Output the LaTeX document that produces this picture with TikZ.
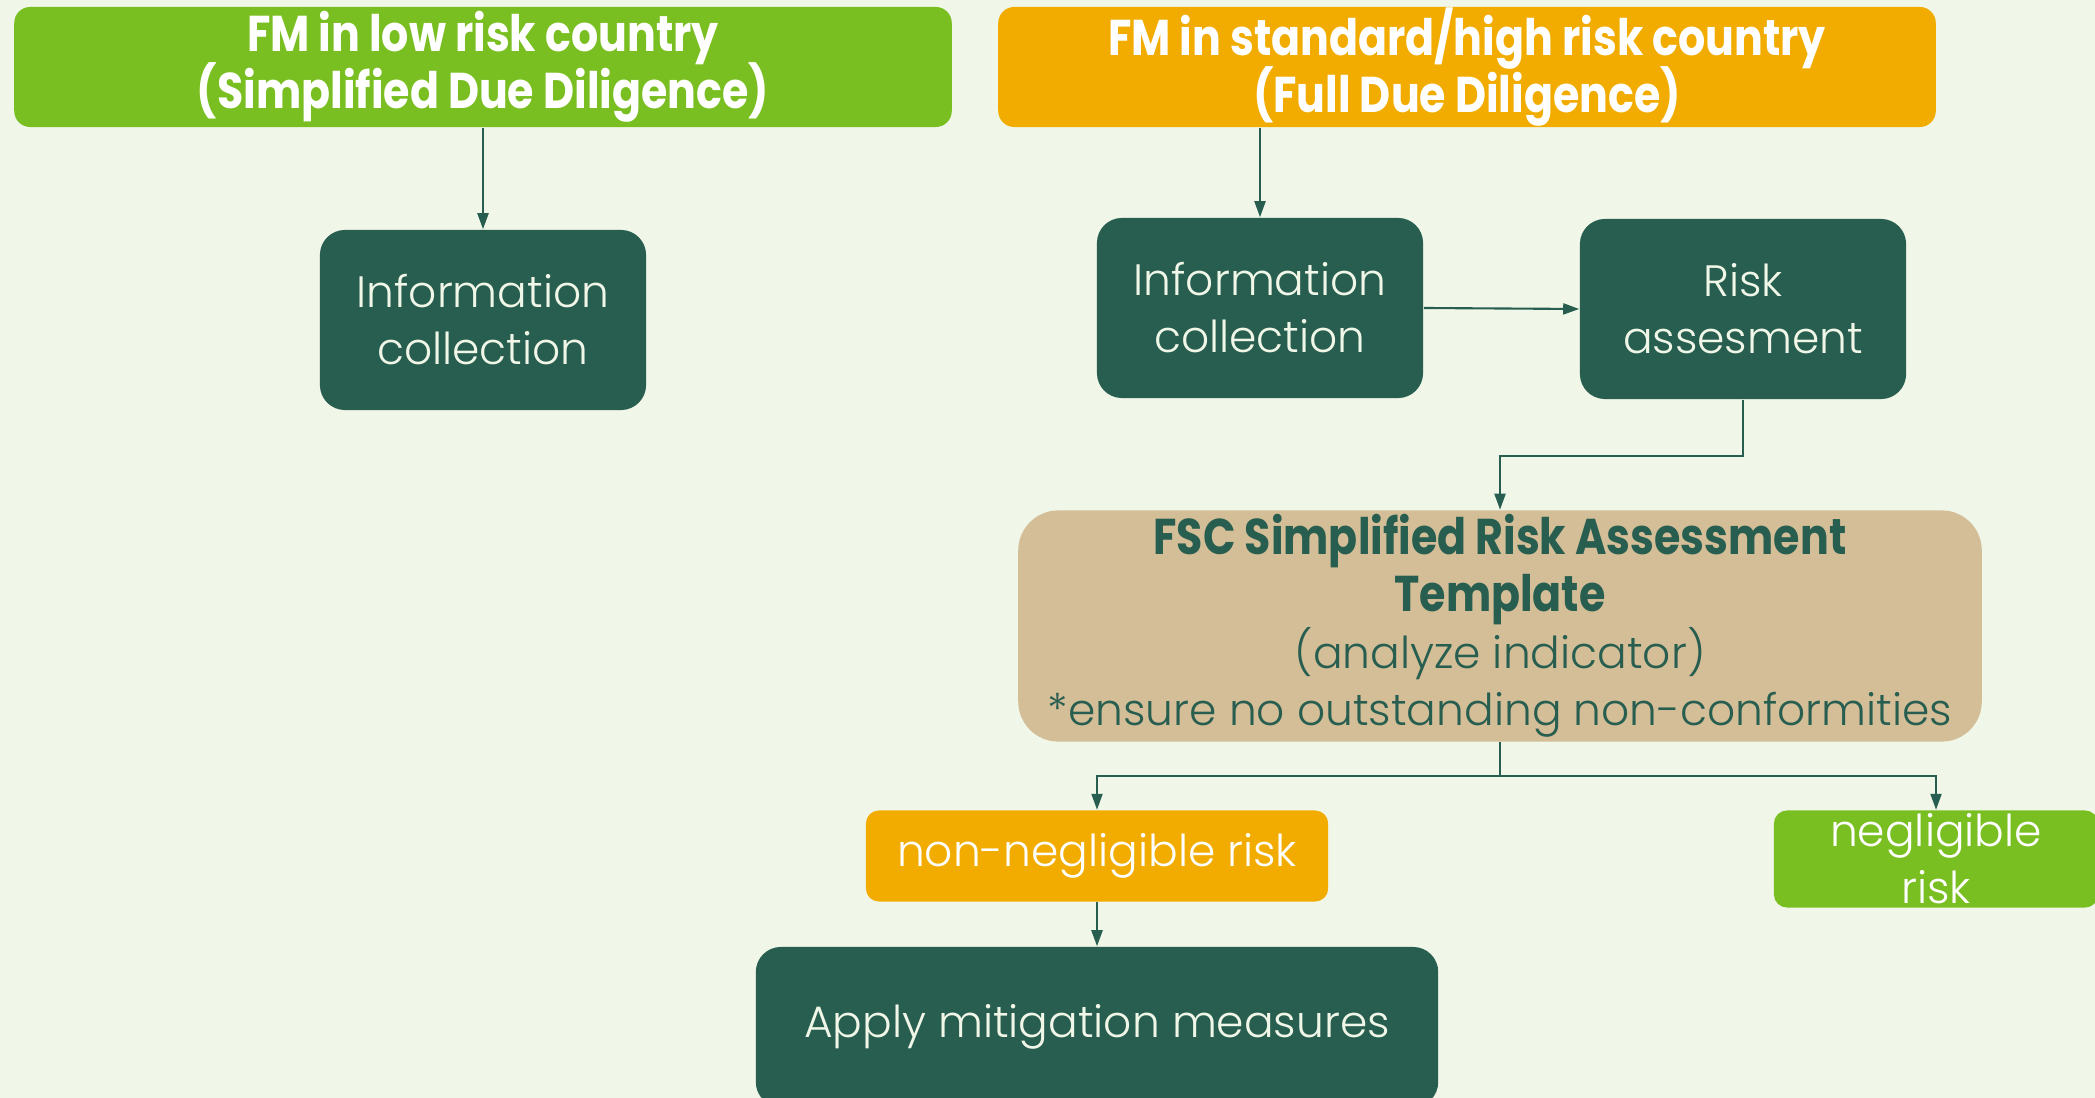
\documentclass[tikz,border=0pt]{standalone}
\usepackage{fontspec}
\usepackage{tikz}
\usetikzlibrary{arrows.meta}
\newfontfamily\bodyfont{Poppins Light}
\newfontfamily\headfont{Poppins}[FakeStretch=0.85]
\definecolor{bgpale}{HTML}{F0F7E8}
\definecolor{leafgreen}{HTML}{7ABF22}
\definecolor{amber}{HTML}{F2AC00}
\definecolor{forest}{HTML}{285E4F}
\definecolor{sand}{HTML}{D4BE98}
\newcommand\boldline{\headfont\bfseries\fontsize{14.3}{16.2}\selectfont\lineskiplimit=-20pt\relax}
\newcommand\thinline{\bodyfont\fontsize{12.5}{16.2}\selectfont\lineskiplimit=-20pt\relax}
\tikzset{
	box/.style={rounded corners=0.25cm, inner sep=0pt, align=center,
		font=\thinline},
	headbox/.style={box, rounded corners=0.16cm, text=white, inner ysep=-4pt,
		font=\boldline, minimum width=9.37cm, minimum height=1.2cm},
	darkbox/.style={box, fill=forest, text=bgpale,
		minimum width=3.26cm, minimum height=1.8cm},
	riskbox/.style={box, rounded corners=0.13cm, text=white},
	flow/.style={draw=forest, line width=0.6pt,
		-{Triangle[length=1.6mm,width=1.1mm]}},
}

\begin{document}
\begin{tikzpicture}[x=0.01cm, y=-0.01cm]
	\useasboundingbox (0,0) rectangle (2095,1098);
	\fill[bgpale] (0,0) rectangle (2095,1098);
	\clip (0,0) rectangle (2095,1098);
	\node[headbox, fill=leafgreen] (lowhead) at (483,67)
		{FM in low risk country\\(Simplified Due Diligence)};
	\node[headbox, fill=amber] (highhead) at (1467,67)
		{FM in standard/high risk country\\(Full Due Diligence)};
	\node[darkbox] (infoA) at (483,320) {Information\\collection};
	\node[darkbox] (infoB) at (1260,308) {Information\\collection};
	\node[darkbox] (riskB) at (1743,309) {Risk\\assesment};
	\node[box, fill=sand, text=forest, rounded corners=0.4cm,
		minimum width=9.63cm, minimum height=2.31cm] (fsc) at (1500,626)
		{{\boldline FSC Simplified Risk Assessment}\\
		{\boldline Template}\\
		(analyze indicator)\\
		*ensure no outstanding non-conformities};
	\node[riskbox, fill=amber, minimum width=4.62cm, minimum height=0.91cm]
		(nonneg) at (1097,856) {non-negligible risk};
	\node[riskbox, fill=leafgreen, minimum width=3.24cm, minimum height=0.97cm]
		(neg) at (1936,859) {negligible\\risk};
	\node[darkbox, minimum width=6.82cm, minimum height=1.6cm]
		(mitig) at (1097,1027) {Apply mitigation measures};
	\def \dropA{56}
	\def \dropB{34}
	\draw[flow] (lowhead.south -| infoA.north) -- (infoA.north);
	\draw[flow] (highhead.south -| infoB.north) -- (infoB.north);
	\draw[flow] (infoB.east) -- (riskB.west);
	\draw[flow] (riskB.south) -- ++(0,\dropA) -| (fsc.north);
	\foreach \t in {nonneg, neg}
	\draw[flow] (fsc.south) -- ++(0,\dropB) -| (\t.north);
	\draw[flow] (nonneg.south) -- (mitig.north);
\end{tikzpicture}
\end{document}
